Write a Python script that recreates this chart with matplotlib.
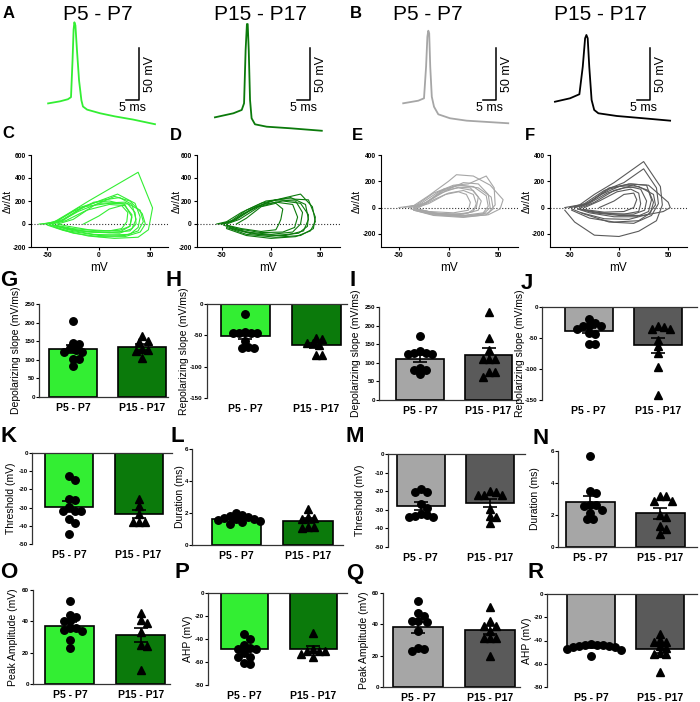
import numpy as np
import matplotlib
matplotlib.use("Agg")
import matplotlib.pyplot as plt

plt.rcParams['font.family'] = ['Liberation Sans', 'DejaVu Sans']
plt.rcParams['axes.unicode_minus'] = False

W, H = 700, 702

# ---- colours ----
LGREEN = '#33ee33'
DGREEN = '#0b7a0b'
LGRAY = '#a6a6a6'
DGRAY = '#5a5a5a'

# ---- A / B : example action potentials (t in ms, V in mV) ----
A1_T = [1.2, 5.8, 8.8, 10.0, 10.6, 11.0, 11.3, 11.7, 12.3, 13.1, 14.0, 14.6, 16.2, 21.2, 26.9, 33.8, 42.3]
A1_V = [-55, -53, -51, -49, -13, 16, 23, 20, -4, -33, -52, -58, -61, -64.5, -67.5, -70.5, -75]
A2_T = [1.9, 9.0, 12.2, 13.1, 13.7, 14.2, 14.5, 14.9, 15.4, 16.0, 17.3, 21.8, 30.8, 43.0]
A2_V = [-68.4, -64.5, -61.3, -54.9, -3.7, 21.3, 21.3, -3.7, -51.7, -69.3, -75.1, -77.4, -78.9, -81.3]
B1_T = [2.0, 7.8, 10.0, 10.8, 11.3, 11.65, 12.0, 12.4, 13.0, 13.85, 15.5, 20.0, 26.4, 42.4]
B1_V = [-54.9, -52.4, -50.1, -19.7, 9.1, 14.9, 12.4, -19.7, -48.6, -58.2, -65.5, -69.3, -71.6, -74.1]
B2_T = [1.9, 7.7, 11.3, 12.6, 13.5, 14.0, 14.5, 15.1, 16.0, 17.0, 18.6, 25.7, 35.9, 46.2]
B2_V = [-53.4, -50.1, -46.2, -19.7, 7.6, 10.8, 7.6, -19.7, -51.7, -61.3, -64.5, -67.1, -69.3, -71.6]
SCALE_MS = 5
SCALE_MV = 50

# ---- C-F : phase plots (V in mV, dV/dt) ----
C_V = [[-58, -45, -30, -10, 15, 38, 52, 48, 38, 15, -10, -35, -50],
       [-55, -42, -25, 0, 18, 35, 40, 38, 30, 0, -30, -48],
       [-50, -38, -20, 0, 25, 40, 43, 38, 25, -5, -30, -45],
       [-52, -40, -20, 5, 20, 32, 36, 32, 20, -10, -35, -48],
       [-48, -35, -15, 10, 28, 35, 36, 30, 10, -20, -40],
       [-45, -32, -12, 10, 25, 32, 30, 20, 0, -25, -42],
       [-15, 0, 10, 22, 28, 27, 22, 10, -10, -30, -40],
       [-40, -25, -5, 15, 30, 42, 45, 40, 25, 0, -25, -42],
       [-50, -35, -20, -5, 10, 25, 32, 30, 20, -5, -30, -45]]
C_D = [[0, 10, 90, 200, 330, 450, 140, -50, -115, -125, -105, -55, -10],
       [0, 20, 110, 200, 260, 180, 60, -30, -90, -100, -60, -10],
       [0, 20, 110, 180, 190, 120, 20, -60, -100, -90, -50, -5],
       [0, 30, 140, 210, 230, 170, 40, -40, -80, -70, -30, -5],
       [0, 40, 150, 180, 175, 100, 0, -60, -75, -60, -20],
       [0, 30, 120, 170, 160, 80, -20, -55, -60, -40, -10],
       [0, 70, 130, 160, 100, 20, -40, -60, -50, -20, 0],
       [0, 40, 160, 240, 200, 90, 0, -70, -110, -110, -80, -30],
       [0, 30, 120, 190, 200, 170, 60, -20, -70, -70, -45, -10]]
D_V = [[-55, -45, -30, -10, 10, 30, 42, 45, 40, 25, 0, -25, -45],
       [-50, -38, -20, 0, 20, 35, 38, 33, 15, -10, -35, -48],
       [-48, -35, -15, 5, 25, 32, 30, 22, 0, -25, -42],
       [-45, -32, -12, 5, 22, 27, 24, 12, -10, -35, -45],
       [-35, -25, -10, 5, 12, 10, 8, 5, -10, -30, -45],
       [-50, -40, -25, -5, 15, 38, 45, 43, 30, 5, -25, -45],
       [-52, -40, -28, -8, 12, 30, 38, 37, 28, 5, -20, -42]]
D_D = [[0, 20, 100, 180, 220, 260, 150, 20, -60, -110, -125, -100, -40],
       [0, 30, 130, 200, 230, 170, 40, -60, -100, -95, -50, -10],
       [0, 40, 150, 210, 200, 100, 0, -70, -90, -70, -20],
       [0, 40, 150, 190, 170, 60, -30, -70, -75, -40, -10],
       [0, 50, 150, 180, 130, 40, 0, -50, -65, -40, -10],
       [0, 30, 120, 200, 220, 210, 60, -40, -100, -115, -90, -30],
       [0, 20, 90, 170, 200, 180, 80, -20, -80, -100, -85, -35]]
E_V = [[-50, -35, -20, 0, 8, 25, 42, 55, 52, 40, 15, -15, -35],
       [-45, -32, -15, 5, 20, 38, 46, 47, 40, 20, -10, -32],
       [-40, -28, -10, 8, 25, 38, 40, 35, 15, -15, -35],
       [-35, -22, -5, 10, 25, 33, 30, 15, -10, -30],
       [-32, -20, 0, 15, 30, 40, 42, 35, 10, -20, -38],
       [-30, -15, 0, 15, 25, 28, 25, 10, -15, -32],
       [-35, -22, -5, 12, 30, 43, 45, 38, 15, -15, -35],
       [-38, -25, -8, 10, 22, 30, 28, 20, 0, -25],
       [-33, -20, -3, 10, 18, 22, 20, 5, -20, -35]]
E_D = [[0, 15, 90, 200, 250, 240, 170, 60, -10, -55, -70, -55, -20],
       [0, 20, 110, 170, 180, 240, 150, 20, -40, -65, -55, -20],
       [0, 30, 120, 170, 160, 90, 10, -40, -60, -45, -10],
       [0, 40, 130, 150, 130, 50, -20, -50, -45, -15],
       [0, 50, 140, 190, 180, 100, 0, -50, -65, -45, -10],
       [0, 60, 110, 130, 100, 30, -30, -55, -40, -10],
       [0, 40, 140, 170, 150, 80, -10, -55, -75, -60, -20],
       [0, 30, 110, 155, 150, 80, 0, -40, -55, -35],
       [0, 30, 100, 120, 100, 40, -20, -40, -30, -5]]
F_V = [[-55, -40, -25, -5, 25, 42, 44, 38, 20, 0, -25, -45, -55],
       [-50, -35, -15, 5, 25, 38, 40, 33, 15, -10, -35, -48],
       [-45, -30, -10, 10, 30, 50, 52, 45, 25, 0, -25, -42],
       [-40, -28, -10, 12, 28, 33, 30, 18, -5, -30, -42],
       [-38, -25, -5, 10, 22, 28, 26, 15, -5, -30],
       [-35, -20, -2, 12, 20, 22, 20, 5, -20, -40],
       [-20, -5, 5, 15, 18, 15, 5, -15, -35],
       [-50, -35, -18, 0, 15, 30, 35, 32, 20, -5, -30, -48],
       [-45, -32, -12, 5, 20, 35, 37, 30, 10, -15, -38]]
F_D = [[0, 20, 100, 190, 350, 160, 20, -100, -180, -220, -210, -110, -20],
       [0, 30, 130, 190, 295, 150, 30, -60, -120, -110, -50, -10],
       [0, 40, 140, 180, 170, 40, 0, -30, -60, -60, -40, -10],
       [0, 50, 150, 180, 170, 60, -30, -70, -70, -40, -10],
       [0, 40, 130, 160, 140, 50, -20, -50, -50, -30],
       [0, 50, 120, 140, 110, 30, -30, -50, -40, -10],
       [0, 50, 100, 110, 60, 0, -30, -35, -15],
       [0, 20, 100, 160, 170, 130, 40, -40, -100, -110, -80, -20],
       [0, 25, 110, 150, 160, 100, 20, -50, -90, -85, -40]]

# ---- G-R : bar panels (P5-P7, P15-P17) ----
GROUPS = ['P5 - P7', 'P15 - P17']

G_MEAN, G_SEM = [128, 135], [11, 8]
G_P5 = [205, 142, 145, 131, 127, 122, 121, 103, 103, 82]
G_P15 = [163, 148, 150, 130, 127, 125, 104]

H_MEAN, H_SEM = [-51.5, -66], [5, 4]
H_P5 = [-16, -46, -46, -46, -46, -44, -59, -68, -71, -71]
H_P15 = [-56, -63, -63, -54, -66, -82, -82]

I_MEAN, I_SEM = [111, 121], [9, 18]
I_P5 = [171, 126, 124, 124, 126, 132, 87, 81, 81, 70]
I_P15 = [237, 168, 135, 110, 110, 110, 74, 74, 61]

J_MEAN, J_SEM = [-38, -62], [4, 12.5]
J_P5 = [-19, -26, -30, -30, -30, -35, -42, -43, -59, -59]
J_P15 = [-32, -36, -36, -30, -53, -63, -74, -97, -142]

K_MEAN, K_SEM = [-29.5, -33.5], [3, 2]
K_P5 = [-12.5, -14.7, -25.2, -25.7, -31.6, -31.6, -31.6, -29.8, -36.4, -38.2, -44.7]
K_P15 = [-25.2, -29, -33.5, -37.7, -37.7, -37.7]

L_MEAN, L_SEM = [1.62, 1.52], [0.07, 0.15]
L_P5 = [1.85, 1.99, 1.7, 1.6, 1.75, 1.8, 1.55, 1.3, 1.45, 1.5, 1.6]
L_P15 = [2.26, 1.73, 1.69, 1.6, 1.14, 1.06, 1.14]

M_MEAN, M_SEM = [-28, -26.3], [2, 2]
M_P5 = [-18.6, -20.6, -20.6, -26.9, -29, -32, -33.9, -33.9, -33.5, -33]
M_P15 = [-19.7, -21.9, -21.9, -21.9, -20.6, -29.6, -34, -33.2, -37.1]

N_MEAN, N_SEM = [2.82, 2.1], [0.35, 0.33]
N_P5 = [5.69, 3.51, 3.35, 2.62, 2.55, 2.62, 2.34, 2.13, 1.78, 1.78]
N_P15 = [3.18, 2.87, 2.89, 3.18, 1.99, 1.88, 1.3, 1.15, 0.84]

O_MEAN, O_SEM = [37.2, 31.2], [2.5, 4.6]
O_P5 = [53, 43, 44, 40, 40, 35.5, 34.5, 34, 35.5, 28, 23]
O_P15 = [45.5, 41, 38.7, 33.4, 24.9, 24.3, 8.9]

P_MEAN, P_SEM = [-49, -49], [2.3, 2.5]
P_P5 = [-35.8, -39.6, -45.4, -49, -48.3, -47.4, -52, -55.5, -55.5, -60.7, -61.8]
P_P15 = [-34.4, -50.3, -49, -53.2, -50.3, -50.3, -56]

Q_MEAN, Q_SEM = [38.2, 36.4], [3.5, 2.8]
Q_P5 = [55.2, 45.4, 47.5, 42.4, 42.4, 41.8, 36, 25, 24, 23.1]
Q_P15 = [51, 42, 39, 39, 36, 31, 31, 31, 19.7]

R_MEAN, R_SEM = [-45.8, -47.5], [1, 3]
R_P5 = [-44, -45, -43, -44, -46, -47, -45, -46, -48, -44, -53]
R_P15 = [-34.4, -39.6, -41, -41, -44.8, -46.8, -51, -52, -52, -67]


fig = plt.figure(figsize=(W / 100, H / 100), dpi=100)


def px_axes(left, top, right, bottom):
    return fig.add_axes([left / W, 1 - bottom / H, (right - left) / W, (bottom - top) / H])


def ftext(x, y, s, **kw):
    fig.text(x / W, 1 - y / H, s, **kw)


# panel letters
for lab, x, y, fs in [('A', 9, 13, 12), ('B', 356, 13, 12), ('C', 8, 134, 12), ('D', 176, 136, 12),
                      ('E', 357, 136, 12), ('F', 530, 136, 12),
                      ('G', 9, 281, 16), ('H', 174, 281, 16), ('I', 353, 281, 16), ('J', 527, 283, 16),
                      ('K', 9, 437, 16), ('L', 177, 436, 16), ('M', 355, 437, 16), ('N', 541, 438, 16),
                      ('O', 9, 573, 16), ('P', 182, 573, 16), ('Q', 355, 573, 16), ('R', 536, 573, 16)]:
    ftext(x, y, lab, fontsize=fs, fontweight='bold', ha='center', va='center')

# ---- traces ----
PX_MS, PX_MV = 2.6, 1.04
traces = [(A1_T, A1_V, LGREEN, 45, 'P5 - P7', 98, 36.2),
          (A2_T, A2_V, DGREEN, 210, 'P15 - P17', 260, 38.5),
          (B1_T, B1_V, LGRAY, 398, 'P5 - P7', 428, 37.7),
          (B2_T, B2_V, 'black', 550, 'P15 - P17', 600, 38.5)]
for t, v, col, left, title, tx, sb_t in traces:
    ax = px_axes(left, 15, left + 130, 135)
    ax.plot(t, v, color=col, lw=1.3)
    ax.set_xlim(0, 130 / PX_MS)
    ax.set_ylim(30 - 120 / PX_MV, 30)
    ax.axis('off')
    sb_v = -52
    ax.plot([sb_t - SCALE_MS, sb_t, sb_t], [sb_v, sb_v, sb_v + SCALE_MV], color='black', lw=1.1)
    ax.text(sb_t + 4.3, sb_v + SCALE_MV / 2, f'{SCALE_MV} mV', rotation=90, ha='center', va='center',
            fontsize=9)
    ax.text(sb_t - SCALE_MS / 2, sb_v - 1.5, f'{SCALE_MS} ms', ha='center', va='top', fontsize=9)
    ftext(tx, 14, title, fontsize=15, ha='center', va='center')

# ---- phase plots ----
phase = [(C_V, C_D, LGREEN, (31, 155, 168, 247), (-66, 67), (-200, 600), [-200, 0, 200, 400, 600], 8),
         (D_V, D_D, DGREEN, (197, 155, 340, 247), (-75, 70), (-200, 600), [-200, 0, 200, 400, 600], 177),
         (E_V, E_D, LGRAY, (381, 155, 518, 247), (-68, 70), (-300, 400), [-200, 0, 200, 400], 357),
         (F_V, F_D, DGRAY, (550, 155, 687, 247), (-70, 69), (-300, 400), [-200, 0, 200, 400], 527)]
for vs, ds, col, box, xl, yl, yt, ylx in phase:
    ax = px_axes(*box)
    ax.axhline(0, color='#333333', ls=':', lw=0.8, zorder=1)
    for v, d in zip(vs, ds):
        ax.plot(v, d, color=col, lw=0.8, zorder=2)
    ax.set_xlim(*xl)
    ax.set_ylim(*yl)
    ax.set_xticks([-50, 0, 50])
    ax.set_yticks(yt)
    for s in ['top', 'right']:
        ax.spines[s].set_visible(False)
    for s in ['left', 'bottom']:
        ax.spines[s].set_linewidth(0.8)
    ax.tick_params(length=2.5, width=0.8, pad=1.2, labelsize=4.8)
    for lb in ax.get_xticklabels() + ax.get_yticklabels():
        lb.set_fontweight('bold')
    ax.set_xlabel('mV', fontsize=8.5, labelpad=2)
    ftext(ylx, (box[1] + box[3]) / 2, 'Δv/Δt', rotation=90, ha='center', va='center', fontsize=7)


# ---- bar panels ----
def swarm_x(ax, xc, vals, diam):
    tr = ax.transData
    pts = tr.transform(np.column_stack([np.full(len(vals), xc), vals]))
    ppu = tr.transform((1, 0))[0] - tr.transform((0, 0))[0]
    placed, offs = [], np.zeros(len(vals))
    cands = [0.0]
    for k in range(1, 20):
        cands += [k * diam / 2, -k * diam / 2]
    for i in np.argsort(vals)[::-1]:
        y = pts[i, 1]
        for c in cands:
            if all((c - px) ** 2 + (y - py) ** 2 >= diam ** 2 for px, py in placed):
                break
        placed.append((c, y))
        offs[i] = c
    return xc + offs / ppu


bars = [('Depolarizing slope (mV/ms)', G_MEAN, G_SEM, G_P5, G_P15, (39, 304, 168, 397), (-0.49, 1.37),
         (0, 250), 50, (LGREEN, DGREEN), 16),
        ('Repolarizing slope (mV/ms)', H_MEAN, H_SEM, H_P5, H_P15, (207, 304, 347, 398), (-0.54, 1.43),
         (-150, 0), 50, (LGREEN, DGREEN), 184),
        ('Depolarizing slope (mV/ms)', I_MEAN, I_SEM, I_P5, I_P15, (379, 307, 518, 400), (-0.6, 1.43),
         (0, 250), 50, (LGRAY, DGRAY), 356),
        ('Repolarizing slope (mV/ms)', J_MEAN, J_SEM, J_P5, J_P15, (542, 307, 697, 400), (-0.67, 1.56),
         (-150, 0), 50, (LGRAY, DGRAY), 520),
        ('Threshold (mV)', K_MEAN, K_SEM, K_P5, K_P15, (32, 453, 172, 544), (-0.53, 1.48),
         (-50, 0), 10, (LGREEN, DGREEN), 11),
        ('Duration (ms)', L_MEAN, L_SEM, L_P5, L_P15, (192, 449, 343, 545), (-0.62, 1.49),
         (0, 6), 2, (LGREEN, DGREEN), 180),
        ('Threshold (mV)', M_MEAN, M_SEM, M_P5, M_P15, (388, 454, 525, 547), (-0.47, 1.5),
         (-50, 0), 10, (LGRAY, DGRAY), 360),
        ('Duration (ms)', N_MEAN, N_SEM, N_P5, N_P15, (558, 451, 697, 547), (-0.46, 1.52),
         (0, 6), 2, (LGRAY, DGRAY), 535),
        ('Peak Amplitude (mV)', O_MEAN, O_SEM, O_P5, O_P15, (33, 590, 170, 684), (-0.52, 1.41),
         (0, 60), 20, (LGREEN, DGREEN), 13),
        ('AHP (mV)', P_MEAN, P_SEM, P_P5, P_P15, (208, 593, 347, 685), (-0.53, 1.49),
         (-80, 0), 20, (LGREEN, DGREEN), 188),
        ('Peak Amplitude (mV)', Q_MEAN, Q_SEM, Q_P5, Q_P15, (383, 593, 520, 687), (-0.49, 1.42),
         (0, 60), 20, (LGRAY, DGRAY), 364),
        ('AHP (mV)', R_MEAN, R_SEM, R_P5, R_P15, (547, 594, 697, 687), (-0.64, 1.54),
         (-80, 0), 20, (LGRAY, DGRAY), 527)]

for ylab, mean, sem, p5, p15, box, xl, yl, step, cols, ylx in bars:
    ax = px_axes(*box)
    ax.set_xlim(*xl)
    ax.set_ylim(*yl)
    ax.bar([0, 1], mean, width=0.69, color=cols, edgecolor='black', linewidth=1.2, zorder=2)
    ax.errorbar([0, 1], mean, yerr=sem, fmt='none', ecolor='black', elinewidth=1.2, capsize=5,
                capthick=1.2, zorder=3)
    ax.plot(swarm_x(ax, 0, np.array(p5, float), 6), p5, 'o', color='black', ms=5.4, zorder=4)
    ax.plot(swarm_x(ax, 1, np.array(p15, float), 6), p15, '^', color='black', ms=5.4, zorder=4)
    ax.set_yticks(np.arange(yl[0], yl[1] + step / 2, step))
    ax.set_xticks([0, 1])
    ax.set_xticklabels(GROUPS, fontsize=7.5, fontweight='bold')
    ax.tick_params(axis='x', length=0, pad=4)
    ax.tick_params(axis='y', length=2, width=0.8, pad=1, labelsize=4.5)
    for lb in ax.get_yticklabels():
        lb.set_fontweight('bold')
    negative = yl[1] == 0
    ax.spines['right'].set_visible(False)
    ax.spines['top'].set_visible(negative)
    ax.spines['bottom'].set_visible(not negative)
    for s in ax.spines.values():
        s.set_linewidth(0.9)
        s.set_color('#333333')
    ftext(ylx, (box[1] + box[3]) / 2, ylab, rotation=90, ha='center', va='center', fontsize=7.5)

fig.savefig('out.png', dpi=100)
